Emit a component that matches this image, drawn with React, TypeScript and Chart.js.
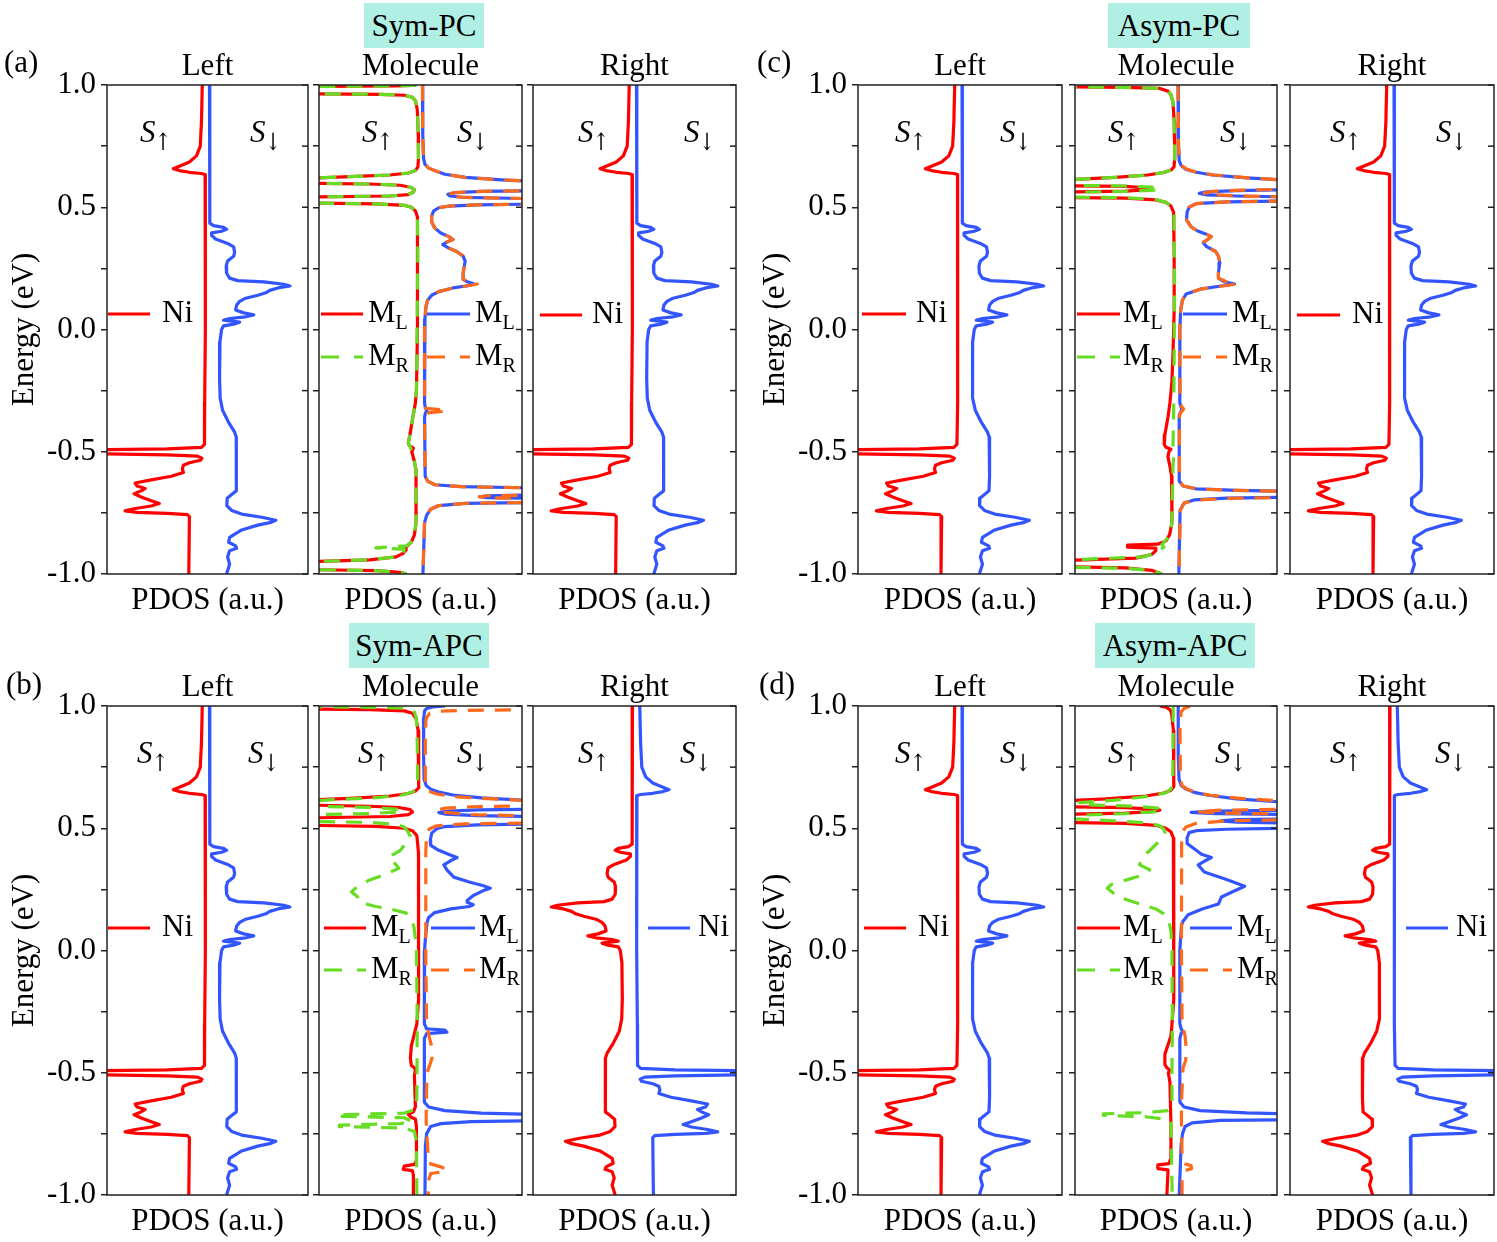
import React, { useEffect, useRef } from 'react';
import { Chart, registerables } from 'chart.js';

Chart.register(...registerables);

type Curve = [number, number][]; // [energy (eV), PDOS (a.u.)], spin-up negative, spin-down positive

const FONT = "'Liberation Serif', 'Times New Roman', Times, 'DejaVu Serif', serif";
const RED = '#ff0000';
const BLUE = '#3355ff';
const GREEN = '#66dd22';
const ORANGE = '#ff6a1a';

const ENERGY_TICKS = [-1, -0.75, -0.5, -0.25, 0, 0.25, 0.5, 0.75, 1];
const ENERGY_LABELS = ['-1.0', '', '-0.5', '', '0.0', '', '0.5', '', '1.0'];
const PANEL_TITLES = ['Left', 'Molecule', 'Right'];
const GROUP_TITLES = ['Sym-PC', 'Asym-PC', 'Sym-APC', 'Asym-APC'];
const GROUP_LETTERS = ['(a)', '(c)', '(b)', '(d)'];

// ---------- Ni electrode PDOS ----------
const NI_UP: Curve = [
  [1.0, -2.6], [0.85, -3.0], [0.75, -3.6], [0.71, -5.5], [0.685, -9], [0.668, -14], [0.658, -17], [0.65, -14],
  [0.643, -9], [0.638, -3], [0.634, -1.2], [0.6, -1.0], [0.3, -1.0], [0.0, -1.2], [-0.3, -1.4], [-0.47, -1.5],
  [-0.482, -3], [-0.488, -20], [-0.492, -56], [-0.508, -56], [-0.513, -20], [-0.518, -5], [-0.526, -2.8],
  [-0.535, -3.5], [-0.545, -9], [-0.555, -12], [-0.57, -12.5], [-0.585, -12], [-0.6, -18], [-0.615, -28],
  [-0.628, -36], [-0.64, -35], [-0.65, -31], [-0.66, -33], [-0.672, -36.5], [-0.685, -33], [-0.7, -28],
  [-0.712, -24], [-0.722, -28], [-0.732, -36], [-0.742, -41], [-0.748, -35], [-0.752, -20], [-0.757, -10],
  [-0.765, -9], [-1.0, -9.3],
];
const NI_DN: Curve = [
  [1.0, 1.0], [0.6, 1.1], [0.435, 1.2], [0.425, 3], [0.418, 8], [0.41, 9.5], [0.402, 7], [0.395, 2.2],
  [0.385, 2.0], [0.37, 4], [0.352, 10], [0.338, 13], [0.315, 13.5], [0.3, 13], [0.28, 10], [0.26, 9.3],
  [0.23, 9.5], [0.21, 11], [0.2, 15], [0.195, 28], [0.185, 38], [0.178, 41], [0.17, 35], [0.16, 31],
  [0.15, 29], [0.14, 25], [0.128, 19], [0.115, 16], [0.1, 14.5], [0.08, 14], [0.068, 18], [0.06, 23],
  [0.052, 19], [0.045, 11], [0.038, 8], [0.03, 16], [0.022, 13], [0.015, 8], [0.0, 7], [-0.05, 6.2],
  [-0.2, 6.0], [-0.28, 6.3], [-0.33, 7.5], [-0.38, 10.5], [-0.42, 13.5], [-0.44, 14.3], [-0.6, 14.5],
  [-0.66, 14.2], [-0.675, 12], [-0.69, 9.8], [-0.72, 9.6], [-0.74, 12], [-0.755, 17], [-0.768, 27],
  [-0.78, 34], [-0.79, 31], [-0.8, 25], [-0.82, 17], [-0.85, 11], [-0.87, 10.5], [-0.885, 14], [-0.895, 14.5],
  [-0.905, 11], [-0.93, 10], [-0.96, 11], [-1.0, 9.5],
];
// anti-parallel right electrode: spins exchanged
const spinFlip = (c: Curve): Curve => c.map(([e, v]) => [e, -v] as [number, number]);
const NI_APC_UP = spinFlip(NI_DN);
const NI_APC_DN = spinFlip(NI_UP);

// ---------- Sym-PC molecule ----------
const SYM_PC_ML_UP: Curve = [
  [1.0, -2.0], [0.998, -4], [0.996, -12], [0.994, -56], [0.964, -56], [0.962, -20], [0.958, -8], [0.95, -4],
  [0.935, -2.5], [0.9, -1.6], [0.8, -1.1], [0.7, -1.0], [0.665, -1.3], [0.65, -2.5], [0.64, -6], [0.632, -15],
  [0.625, -35], [0.618, -56], [0.598, -56], [0.595, -25], [0.59, -10], [0.582, -5], [0.572, -3], [0.562, -3.5],
  [0.552, -6], [0.546, -15], [0.542, -56], [0.517, -56], [0.514, -22], [0.508, -8], [0.5, -4.5], [0.485, -2.5],
  [0.46, -1.5], [0.3, -1.3], [0.0, -1.7], [-0.25, -2.0], [-0.3, -2.5], [-0.355, -3.7], [-0.43, -5.2],
  [-0.465, -6.0], [-0.475, -5.5], [-0.485, -3.5], [-0.492, -3.8], [-0.5, -4.3], [-0.54, -3], [-0.575, -2.2],
  [-0.79, -2.2], [-0.84, -3], [-0.87, -4.5], [-0.885, -6.5], [-0.893, -7.5], [-0.9, -7], [-0.915, -8.5],
  [-0.93, -12], [-0.942, -25], [-0.95, -56], [-0.982, -56], [-0.986, -22], [-0.993, -10], [-1.0, -7],
];
const SYM_PC_MR_UP: Curve = [
  [1.0, -2.0], [0.998, -4], [0.996, -12], [0.994, -56], [0.964, -56], [0.962, -20], [0.958, -8], [0.95, -4],
  [0.935, -2.5], [0.9, -1.6], [0.8, -1.1], [0.7, -1.0], [0.665, -1.3], [0.65, -2.5], [0.64, -6], [0.632, -15],
  [0.625, -35], [0.618, -56], [0.598, -56], [0.595, -25], [0.59, -10], [0.582, -5], [0.572, -3], [0.562, -3.5],
  [0.552, -6], [0.546, -15], [0.542, -56], [0.517, -56], [0.514, -22], [0.508, -8], [0.5, -4.5], [0.485, -2.5],
  [0.46, -1.5], [0.3, -1.3], [0.0, -1.7], [-0.25, -2.0], [-0.3, -2.5], [-0.355, -3.7], [-0.43, -5.2],
  [-0.465, -6.0], [-0.48, -5.0], [-0.5, -4.3], [-0.54, -3], [-0.575, -2.2], [-0.79, -2.2], [-0.84, -3],
  [-0.87, -4.5], [-0.885, -7], [-0.893, -22], [-0.899, -8], [-0.915, -8.5], [-0.93, -12], [-0.942, -25],
  [-0.95, -56], [-0.982, -56], [-0.986, -22], [-0.993, -10], [-1.0, -7],
];
const SYM_PC_ML_DN: Curve = [
  [1.0, 1.0], [0.8, 1.1], [0.7, 1.5], [0.675, 2.2], [0.66, 4], [0.648, 7.5], [0.635, 12], [0.622, 22],
  [0.612, 40], [0.606, 56], [0.568, 56], [0.565, 30], [0.56, 17], [0.553, 13.5], [0.546, 14.5], [0.54, 22],
  [0.535, 56], [0.513, 56], [0.51, 28], [0.505, 14], [0.498, 9], [0.485, 6.5], [0.465, 5.5], [0.44, 5.5],
  [0.415, 7], [0.395, 10], [0.38, 14], [0.368, 16], [0.358, 13], [0.347, 11], [0.335, 13.5], [0.318, 18],
  [0.3, 21], [0.28, 22], [0.255, 21.5], [0.23, 21], [0.205, 21], [0.195, 23], [0.186, 26.5], [0.18, 24],
  [0.17, 16], [0.155, 9], [0.14, 5.5], [0.12, 3.5], [0.09, 2.6], [0.04, 2.2], [0.0, 2.0], [-0.3, 2.0],
  [-0.322, 2.4], [-0.332, 3.2], [-0.342, 2.4], [-0.36, 2.0], [-0.6, 2.3], [-0.62, 3.5], [-0.635, 7],
  [-0.643, 20], [-0.648, 56], [-0.677, 56], [-0.68, 33], [-0.684, 29], [-0.688, 33], [-0.691, 56],
  [-0.707, 56], [-0.711, 22], [-0.72, 9], [-0.735, 5], [-0.76, 3], [-0.79, 2], [-1.0, 1.2],
];
const SYM_PC_MR_DN: Curve = [
  [1.0, 1.0], [0.8, 1.1], [0.7, 1.5], [0.675, 2.2], [0.66, 4], [0.648, 7.5], [0.635, 12], [0.622, 22],
  [0.612, 40], [0.606, 56], [0.568, 56], [0.565, 30], [0.56, 17], [0.553, 13.5], [0.546, 14.5], [0.54, 22],
  [0.535, 56], [0.513, 56], [0.51, 28], [0.505, 14], [0.498, 9], [0.485, 6.5], [0.465, 5.5], [0.44, 5.5],
  [0.415, 7], [0.395, 10], [0.38, 14], [0.368, 16], [0.358, 13], [0.347, 11], [0.335, 13.5], [0.318, 18],
  [0.3, 21], [0.28, 22], [0.255, 21.5], [0.23, 21], [0.205, 21], [0.195, 24], [0.186, 28], [0.18, 24],
  [0.17, 16], [0.155, 9], [0.14, 5.5], [0.12, 3.5], [0.09, 2.6], [0.04, 2.2], [0.0, 2.0], [-0.3, 2.0],
  [-0.322, 2.5], [-0.328, 10], [-0.334, 13], [-0.34, 4], [-0.36, 2.0], [-0.6, 2.3], [-0.62, 3.5], [-0.635, 7],
  [-0.643, 20], [-0.648, 56], [-0.677, 56], [-0.68, 33], [-0.684, 29], [-0.688, 33], [-0.691, 56],
  [-0.707, 56], [-0.711, 22], [-0.72, 9], [-0.735, 5], [-0.76, 3], [-0.79, 2], [-1.0, 1.2],
];

// ---------- Asym-PC molecule ----------
const ASYM_PC_ML_UP: Curve = [
  [1.0, -56], [0.993, -56], [0.99, -25], [0.986, -8], [0.975, -4], [0.96, -2.5], [0.93, -1.5], [0.85, -0.9],
  [0.7, -0.6], [0.665, -1.0], [0.652, -2.5], [0.642, -6], [0.632, -14], [0.622, -30], [0.612, -56],
  [0.588, -56], [0.585, -25], [0.58, -17], [0.575, -14], [0.57, -17], [0.566, -25], [0.562, -56], [0.54, -56],
  [0.537, -25], [0.53, -10], [0.52, -5], [0.505, -2.5], [0.48, -1.2], [0.3, -0.9], [0.08, -0.9], [-0.1, -1.5],
  [-0.21, -2], [-0.3, -3], [-0.355, -3.9], [-0.43, -5.5], [-0.47, -5.8], [-0.482, -5], [-0.49, -2.5],
  [-0.5, -3.5], [-0.52, -4], [-0.56, -3], [-0.6, -2.2], [-0.79, -2.0], [-0.84, -3.2], [-0.865, -5],
  [-0.878, -9], [-0.882, -24], [-0.89, -24], [-0.894, -10], [-0.905, -10], [-0.92, -12], [-0.935, -20],
  [-0.945, -56], [-0.97, -56], [-0.975, -25], [-0.985, -12], [-1.0, -7],
];
const ASYM_PC_MR_UP: Curve = [
  [1.0, -56], [0.993, -56], [0.99, -25], [0.986, -8], [0.975, -4], [0.96, -2.5], [0.93, -1.5], [0.85, -0.9],
  [0.7, -0.6], [0.665, -1.0], [0.652, -2.5], [0.642, -6], [0.63, -16], [0.62, -35], [0.612, -56], [0.59, -56],
  [0.587, -25], [0.582, -12], [0.576, -8], [0.57, -10], [0.565, -25], [0.561, -56], [0.542, -56],
  [0.539, -25], [0.532, -10], [0.52, -5], [0.505, -2.5], [0.48, -1.0], [0.2, -0.7], [-0.1, -0.9],
  [-0.3, -1.1], [-0.4, -1.3], [-0.48, -1.5], [-0.5, -1.0], [-0.56, -1.5], [-0.79, -2.0], [-0.84, -3],
  [-0.87, -6], [-0.88, -7], [-0.89, -6], [-0.91, -9], [-0.93, -16], [-0.943, -56], [-0.972, -56],
  [-0.977, -25], [-0.985, -12], [-1.0, -7],
];
const ASYM_PC_ML_DN: Curve = [
  [1.0, 1.0], [0.75, 1.2], [0.69, 1.6], [0.67, 2.6], [0.655, 5], [0.643, 10], [0.632, 18], [0.62, 35],
  [0.61, 56], [0.572, 56], [0.568, 30], [0.563, 15], [0.557, 11.5], [0.551, 15], [0.546, 30], [0.542, 56],
  [0.526, 56], [0.522, 25], [0.515, 10], [0.5, 6.5], [0.48, 5.5], [0.448, 5.2], [0.42, 7.5], [0.404, 10.5],
  [0.39, 15], [0.38, 17.5], [0.37, 16], [0.355, 13.5], [0.34, 15], [0.32, 19.5], [0.3, 21], [0.273, 21.7],
  [0.25, 21.3], [0.23, 21], [0.21, 21], [0.195, 24], [0.186, 29], [0.18, 24], [0.165, 12], [0.145, 5],
  [0.12, 3.2], [0.08, 2.3], [0.0, 1.9], [-0.3, 1.9], [-0.315, 2.4], [-0.325, 3], [-0.335, 2.4], [-0.35, 1.6],
  [-0.62, 1.6], [-0.64, 3.5], [-0.652, 10], [-0.658, 30], [-0.662, 56], [-0.686, 56], [-0.69, 25],
  [-0.697, 9], [-0.71, 4], [-0.74, 2], [-1.0, 1.4],
];
const ASYM_PC_MR_DN: Curve = [
  [1.0, 1.0], [0.75, 1.3], [0.69, 1.8], [0.67, 2.8], [0.655, 5.5], [0.643, 10.5], [0.632, 19], [0.62, 36],
  [0.61, 56], [0.574, 56], [0.57, 32], [0.565, 18], [0.558, 14], [0.551, 18], [0.546, 32], [0.542, 56],
  [0.526, 56], [0.522, 25], [0.515, 10], [0.5, 6.5], [0.48, 5.5], [0.448, 5.2], [0.42, 7.5], [0.404, 10.5],
  [0.39, 15], [0.38, 17.5], [0.37, 16], [0.355, 13], [0.34, 14.5], [0.32, 19.5], [0.3, 21], [0.273, 21.7],
  [0.25, 21.3], [0.23, 21], [0.21, 21], [0.195, 25], [0.186, 30], [0.18, 25], [0.165, 12], [0.145, 5],
  [0.12, 3.2], [0.08, 2.3], [0.0, 1.9], [-0.3, 2.0], [-0.315, 2.8], [-0.325, 3.8], [-0.335, 2.8],
  [-0.35, 1.7], [-0.62, 1.7], [-0.64, 3.6], [-0.652, 10.5], [-0.658, 30], [-0.662, 56], [-0.687, 56],
  [-0.691, 25], [-0.698, 9], [-0.71, 4], [-0.74, 2.1], [-1.0, 1.5],
];

// ---------- Sym-APC molecule ----------
const SYM_APC_ML_UP: Curve = [
  [1.0, -56], [0.988, -56], [0.985, -25], [0.98, -8], [0.97, -4], [0.95, -2.2], [0.9, -1.2], [0.75, -0.8],
  [0.665, -1.0], [0.652, -2.5], [0.642, -6], [0.632, -15], [0.622, -35], [0.615, -56], [0.595, -56],
  [0.59, -25], [0.584, -10], [0.576, -5], [0.566, -4], [0.556, -6], [0.548, -15], [0.542, -56], [0.512, -56],
  [0.508, -22], [0.5, -8], [0.49, -4], [0.47, -1.8], [0.4, -1.0], [0.0, -0.9], [-0.2, -1.0], [-0.3, -1.8],
  [-0.39, -4.5], [-0.44, -5.0], [-0.47, -4.5], [-0.48, -3], [-0.49, -2.5], [-0.51, -3], [-0.64, -2.5],
  [-0.66, -3.5], [-0.67, -6], [-0.68, -5], [-0.69, -2.5], [-0.72, -2], [-0.86, -2], [-0.875, -3],
  [-0.882, -8], [-0.895, -8.5], [-0.9, -4], [-0.92, -3.5], [-1.0, -3.5],
];
const SYM_APC_MR_UP: Curve = [
  [1.0, -56], [0.997, -56], [0.994, -20], [0.99, -6], [0.975, -3], [0.95, -2], [0.85, -1.6], [0.7, -1.4],
  [0.66, -2], [0.648, -4], [0.636, -9], [0.626, -20], [0.616, -45], [0.61, -56], [0.59, -56], [0.585, -25],
  [0.578, -12], [0.572, -9], [0.566, -12], [0.56, -25], [0.555, -56], [0.528, -56], [0.524, -25],
  [0.516, -12], [0.505, -8], [0.49, -6.5], [0.467, -5], [0.43, -8], [0.409, -10], [0.39, -14], [0.38, -15.6],
  [0.36, -13], [0.336, -10.7], [0.31, -18], [0.285, -26], [0.255, -32], [0.24, -34], [0.22, -31],
  [0.197, -30], [0.18, -22], [0.168, -14], [0.153, -7], [0.13, -4.5], [0.1, -3.3], [0.05, -2.5], [0.0, -2],
  [-0.3, -1.6], [-0.6, -1.8], [-0.65, -2.5], [-0.665, -8], [-0.672, -41], [-0.678, -41], [-0.684, -8],
  [-0.7, -4], [-0.708, -10], [-0.714, -40], [-0.72, -40], [-0.726, -8], [-0.74, -3], [-0.78, -2], [-1.0, -1.8],
];
const SYM_APC_ML_DN: Curve = [
  [1.0, 12], [0.996, 6], [0.99, 3], [0.98, 2], [0.95, 1.6], [0.8, 1.5], [0.7, 1.8], [0.675, 2.8], [0.66, 5],
  [0.648, 9], [0.636, 16], [0.624, 30], [0.612, 56], [0.578, 56], [0.575, 28], [0.57, 14], [0.564, 9],
  [0.558, 12], [0.552, 28], [0.548, 56], [0.518, 56], [0.514, 28], [0.507, 12], [0.498, 8], [0.48, 5.5],
  [0.45, 4.8], [0.43, 5], [0.41, 9], [0.39, 15], [0.38, 18], [0.368, 15], [0.35, 11.5], [0.33, 13],
  [0.3, 16.4], [0.28, 24], [0.265, 31], [0.255, 34.4], [0.245, 31], [0.225, 26], [0.205, 23], [0.197, 23],
  [0.187, 26], [0.18, 24], [0.17, 15], [0.155, 7], [0.135, 4], [0.117, 3.3], [0.06, 2.5], [0.0, 2.0],
  [-0.3, 1.9], [-0.32, 3], [-0.326, 12], [-0.334, 13], [-0.34, 3], [-0.36, 1.9], [-0.62, 1.9], [-0.64, 4],
  [-0.655, 12], [-0.665, 30], [-0.67, 56], [-0.696, 56], [-0.7, 25], [-0.708, 10], [-0.72, 5], [-0.75, 3],
  [-0.8, 2.4], [-1.0, 2.2],
];
const SYM_APC_MR_DN: Curve = [
  [1.0, 56], [0.985, 56], [0.982, 20], [0.978, 8], [0.97, 4.5], [0.95, 2.8], [0.9, 2.4], [0.7, 2.4],
  [0.665, 2.6], [0.652, 4], [0.64, 8], [0.628, 18], [0.618, 40], [0.612, 56], [0.592, 56], [0.588, 25],
  [0.582, 12], [0.574, 8], [0.566, 10], [0.556, 25], [0.55, 56], [0.522, 56], [0.518, 22], [0.51, 8],
  [0.498, 4.5], [0.48, 3], [0.4, 2.6], [0.0, 2.6], [-0.3, 3], [-0.36, 4.5], [-0.4, 5.7], [-0.44, 5.7],
  [-0.47, 4.5], [-0.5, 3.2], [-0.64, 2.8], [-0.7, 2.8], [-0.8, 3.5], [-0.87, 4], [-0.885, 10], [-0.895, 13],
  [-0.905, 11], [-0.912, 5], [-0.94, 4], [-1.0, 3.8],
];

// ---------- Asym-APC molecule ----------
const ASYM_APC_ML_UP: Curve = [
  [1.0, -8], [0.995, -5], [0.985, -3], [0.97, -2.2], [0.9, -1.3], [0.75, -1.0], [0.67, -1.2], [0.655, -2.5],
  [0.644, -6], [0.632, -15], [0.62, -35], [0.612, -56], [0.588, -56], [0.584, -25], [0.578, -12],
  [0.574, -8], [0.568, -12], [0.562, -25], [0.557, -56], [0.524, -56], [0.52, -25], [0.512, -10], [0.5, -5],
  [0.485, -2.5], [0.46, -1.3], [0.2, -1.0], [-0.2, -1.2], [-0.3, -2], [-0.35, -2.5], [-0.424, -5.5],
  [-0.467, -5.5], [-0.48, -4.5], [-0.49, -3], [-0.5, -3.8], [-0.54, -3], [-0.715, -2.5], [-0.85, -2.5],
  [-0.872, -3.5], [-0.877, -9], [-0.892, -9], [-0.897, -4], [-0.91, -4], [-1.0, -4.5],
];
const ASYM_APC_MR_UP: Curve = [
  [1.0, -1.4], [0.9, -1.4], [0.7, -1.6], [0.66, -2.5], [0.645, -5], [0.632, -12], [0.615, -30], [0.605, -48],
  [0.597, -48], [0.59, -20], [0.582, -9], [0.575, -6.5], [0.568, -9], [0.56, -25], [0.553, -48],
  [0.538, -50], [0.53, -30], [0.522, -14], [0.51, -8], [0.496, -6], [0.482, -5.5], [0.45, -8], [0.409, -13],
  [0.38, -17], [0.35, -18], [0.33, -13], [0.31, -16], [0.29, -24], [0.27, -32], [0.255, -34], [0.235, -31],
  [0.215, -27], [0.19, -18], [0.17, -10], [0.15, -6], [0.12, -3.5], [0.08, -2.5], [0.0, -2], [-0.3, -1.8],
  [-0.5, -2], [-0.64, -2], [-0.655, -4], [-0.663, -15], [-0.668, -36], [-0.674, -36], [-0.68, -15],
  [-0.69, -5], [-0.7, -2.5], [-1.0, -1.9],
];
const ASYM_APC_ML_DN: Curve = [
  [1.0, 1.1], [0.8, 1.1], [0.7, 1.5], [0.675, 2.6], [0.66, 5], [0.647, 9], [0.635, 16], [0.62, 30],
  [0.605, 56], [0.574, 56], [0.57, 20], [0.565, 7.5], [0.56, 20], [0.556, 56], [0.538, 56], [0.535, 30],
  [0.53, 22], [0.525, 30], [0.521, 56], [0.5, 56], [0.496, 25], [0.49, 10], [0.482, 6.5], [0.46, 5.5],
  [0.438, 5.5], [0.41, 10], [0.394, 12.6], [0.38, 17.5], [0.365, 14], [0.35, 11], [0.321, 14], [0.29, 25],
  [0.263, 34], [0.24, 28], [0.219, 22.5], [0.19, 21], [0.17, 13], [0.146, 6], [0.12, 3.5], [0.102, 2.7],
  [0.0, 1.9], [-0.3, 1.9], [-0.32, 2.5], [-0.33, 3.3], [-0.34, 2.5], [-0.36, 1.9], [-0.62, 1.9], [-0.64, 4],
  [-0.655, 12], [-0.664, 35], [-0.668, 56], [-0.692, 56], [-0.695, 22], [-0.705, 8], [-0.72, 4.5],
  [-0.75, 3.2], [-0.8, 2.5], [-1.0, 1.6],
];
const ASYM_APC_MR_DN: Curve = [
  [1.0, 7], [0.99, 4], [0.975, 2.5], [0.9, 2.0], [0.7, 2.2], [0.675, 3], [0.66, 5.5], [0.647, 9.5],
  [0.635, 17], [0.622, 32], [0.61, 56], [0.578, 56], [0.574, 22], [0.568, 10], [0.562, 22], [0.558, 56],
  [0.535, 56], [0.53, 25], [0.52, 10], [0.505, 5], [0.49, 3.5], [0.45, 2.8], [0.0, 2.7], [-0.3, 3],
  [-0.35, 4.5], [-0.4, 5], [-0.45, 4.8], [-0.48, 3.5], [-0.62, 2.7], [-0.7, 2.7], [-0.85, 3], [-0.872, 4],
  [-0.88, 7.5], [-0.892, 7.7], [-0.9, 4.5], [-0.93, 3], [-1.0, 3],
];

// ---------- layout ----------
const FRAME_X: [number, number][] = [[107, 308], [319, 522], [533, 736], [858, 1062], [1075, 1277], [1290, 1494]];
const FRAME_Y: [number, number][] = [[85, 574], [706, 1195]];
const TITLE_H = 38;
const XAXIS_H = 50;
const PAD_R = 2;

type Series = { data: Curve; color: string; dashed: boolean };
type LegendItem = { x0: number; x1: number; y: number; color: string; dashed: boolean; label: string; tx: number };
type Spec = {
  key: string; col: number; row: number; title: string; yAxis: boolean;
  series: Series[]; legend: LegendItem[]; sUp: number; sDn: number;
};

const elecSeries = (up: Curve, dn: Curve): Series[] => [
  { data: up, color: RED, dashed: false },
  { data: dn, color: BLUE, dashed: false },
];
const molSeries = (mlUp: Curve, mlDn: Curve, mrUp: Curve, mrDn: Curve): Series[] => [
  { data: mrUp, color: GREEN, dashed: true },
  { data: mrDn, color: ORANGE, dashed: true },
  { data: mlUp, color: RED, dashed: false },
  { data: mlDn, color: BLUE, dashed: false },
];
const molLegend = (l0: number, l1: number, tl: number, r0: number, r1: number, tr: number, y1: number, y2: number): LegendItem[] => [
  { x0: l0, x1: l1, y: y1, color: RED, dashed: false, label: 'ML', tx: tl },
  { x0: r0, x1: r1, y: y1, color: BLUE, dashed: false, label: 'ML', tx: tr },
  { x0: l0, x1: l1, y: y2, color: GREEN, dashed: true, label: 'MR', tx: tl },
  { x0: r0, x1: r1, y: y2, color: ORANGE, dashed: true, label: 'MR', tx: tr },
];
const niLegend = (x0: number, x1: number, tx: number, y: number, color: string): LegendItem[] => [
  { x0, x1, y, color, dashed: false, label: 'Ni', tx },
];

const PANELS: Spec[] = [
  { key: 'aL', col: 0, row: 0, title: PANEL_TITLES[0], yAxis: true, series: elecSeries(NI_UP, NI_DN), legend: niLegend(1, 43, 55, 229, RED), sUp: 33, sDn: 143 },
  { key: 'aM', col: 1, row: 0, title: PANEL_TITLES[1], yAxis: false, series: molSeries(SYM_PC_ML_UP, SYM_PC_ML_DN, SYM_PC_MR_UP, SYM_PC_MR_DN), legend: molLegend(2, 44, 49, 108, 151, 156, 229, 272), sUp: 43, sDn: 138 },
  { key: 'aR', col: 2, row: 0, title: PANEL_TITLES[2], yAxis: false, series: elecSeries(NI_UP, NI_DN), legend: niLegend(7, 49, 59, 230, RED), sUp: 45, sDn: 151 },
  { key: 'cL', col: 3, row: 0, title: PANEL_TITLES[0], yAxis: true, series: elecSeries(NI_UP, NI_DN), legend: niLegend(4, 48, 58, 229, RED), sUp: 37, sDn: 142 },
  { key: 'cM', col: 4, row: 0, title: PANEL_TITLES[1], yAxis: false, series: molSeries(ASYM_PC_ML_UP, ASYM_PC_ML_DN, ASYM_PC_MR_UP, ASYM_PC_MR_DN), legend: molLegend(2, 45, 48, 108, 152, 157, 229, 272), sUp: 33, sDn: 145 },
  { key: 'cR', col: 5, row: 0, title: PANEL_TITLES[2], yAxis: false, series: elecSeries(NI_UP, NI_DN), legend: niLegend(7, 50, 62, 230, RED), sUp: 40, sDn: 146 },
  { key: 'bL', col: 0, row: 1, title: PANEL_TITLES[0], yAxis: true, series: elecSeries(NI_UP, NI_DN), legend: niLegend(1, 43, 55, 222, RED), sUp: 30, sDn: 141 },
  { key: 'bM', col: 1, row: 1, title: PANEL_TITLES[1], yAxis: false, series: molSeries(SYM_APC_ML_UP, SYM_APC_ML_DN, SYM_APC_MR_UP, SYM_APC_MR_DN), legend: molLegend(5, 47, 52, 112, 156, 160, 222, 264), sUp: 39, sDn: 138 },
  { key: 'bR', col: 2, row: 1, title: PANEL_TITLES[2], yAxis: false, series: elecSeries(NI_APC_UP, NI_APC_DN), legend: niLegend(115, 157, 165, 222, BLUE), sUp: 45, sDn: 147 },
  { key: 'dL', col: 3, row: 1, title: PANEL_TITLES[0], yAxis: true, series: elecSeries(NI_UP, NI_DN), legend: niLegend(6, 48, 60, 222, RED), sUp: 37, sDn: 142 },
  { key: 'dM', col: 4, row: 1, title: PANEL_TITLES[1], yAxis: false, series: molSeries(ASYM_APC_ML_UP, ASYM_APC_ML_DN, ASYM_APC_MR_UP, ASYM_APC_MR_DN), legend: molLegend(2, 45, 48, 115, 157, 162, 222, 264), sUp: 33, sDn: 140 },
  { key: 'dR', col: 5, row: 1, title: PANEL_TITLES[2], yAxis: false, series: elecSeries(NI_APC_UP, NI_APC_DN), legend: niLegend(116, 158, 166, 222, BLUE), sUp: 40, sDn: 145 },
];

const GROUP_BOXES = [
  { title: GROUP_TITLES[0], letter: GROUP_LETTERS[0], boxL: 364, boxW: 120, top: 3, letterL: 4, letterT: 46 },
  { title: GROUP_TITLES[1], letter: GROUP_LETTERS[1], boxL: 1108, boxW: 142, top: 3, letterL: 757, letterT: 46 },
  { title: GROUP_TITLES[2], letter: GROUP_LETTERS[2], boxL: 349, boxW: 140, top: 623, letterL: 6, letterT: 668 },
  { title: GROUP_TITLES[3], letter: GROUP_LETTERS[3], boxL: 1095, boxW: 160, top: 623, letterL: 759, letterT: 668 },
];

function Panel({ spec }: { spec: Spec }) {
  const ref = useRef<HTMLCanvasElement>(null);
  const [fx0, fx1] = FRAME_X[spec.col];
  const [fy0, fy1] = FRAME_Y[spec.row];
  const axisW = spec.yAxis ? 107 : 8;
  const left = fx0 - axisW;
  const top = fy0 - TITLE_H;
  const width = axisW + (fx1 - fx0) + PAD_R;
  const height = TITLE_H + (fy1 - fy0) + XAXIS_H;

  useEffect(() => {
    const cv = ref.current;
    if (!cv) return;
    const decor = {
      id: 'decor',
      afterDatasetsDraw(chart: any) {
        const { ctx, chartArea: a, scales } = chart;
        ctx.save();
        ctx.setLineDash([]);
        ctx.strokeStyle = '#222';
        ctx.lineWidth = 1.5;
        ctx.strokeRect(a.left, a.top, a.right - a.left, a.bottom - a.top);
        scales.y.ticks.forEach((t: any) => {
          const py = scales.y.getPixelForValue(t.value);
          ctx.beginPath();
          ctx.moveTo(a.right, py);
          ctx.lineTo(a.right - 6, py);
          ctx.stroke();
        });
        spec.legend.forEach((it) => {
          ctx.beginPath();
          ctx.strokeStyle = it.color;
          ctx.lineWidth = 3;
          ctx.setLineDash(it.dashed ? [18, 15] : []);
          ctx.moveTo(a.left + it.x0, a.top + it.y);
          ctx.lineTo(a.left + it.x1, a.top + it.y);
          ctx.stroke();
        });
        ctx.restore();
      },
    };
    const font = { family: FONT, size: 31, lineHeight: 1, weight: 'normal' };
    const chart = new Chart(cv, {
      type: 'scatter',
      data: {
        datasets: spec.series.map((s) => ({
          data: s.data.map(([e, v]) => ({ x: v, y: e })),
          showLine: true,
          borderColor: s.color,
          backgroundColor: s.color,
          borderWidth: 3.2,
          borderDash: s.dashed ? [16, 11] : [],
          borderJoinStyle: 'round',
          pointRadius: 0,
          pointHoverRadius: 0,
          tension: 0,
          fill: false,
        })),
      } as any,
      options: {
        animation: false,
        responsive: false,
        events: [],
        layout: { padding: { left: 0, right: PAD_R, top: 0, bottom: 0 } },
        plugins: {
          legend: { display: false },
          tooltip: { enabled: false },
          title: {
            display: true, text: spec.title, fullSize: false, color: '#000', font,
            padding: { top: 4, bottom: 3 },
          },
        },
        scales: {
          x: {
            type: 'linear', min: -50, max: 50,
            ticks: { display: false },
            grid: { display: false },
            border: { display: false },
            title: { display: true, text: 'PDOS (a.u.)', color: '#000', font, padding: { top: 0, bottom: 8 } },
            afterFit: (s: any) => { s.height = XAXIS_H; },
          },
          y: {
            type: 'linear', min: -1, max: 1,
            afterBuildTicks: (s: any) => { s.ticks = ENERGY_TICKS.map((v) => ({ value: v })); },
            ticks: {
              autoSkip: false, padding: 5, color: '#000', font,
              callback: (_v: any, i: number) => (spec.yAxis ? ENERGY_LABELS[i] : ''),
            },
            grid: { display: true, drawOnChartArea: false, drawTicks: true, tickLength: 6, color: '#222', lineWidth: 1.5 },
            border: { display: false },
            title: { display: spec.yAxis, text: 'Energy (eV)', color: '#000', font, padding: { top: 9, bottom: 0 } },
            afterFit: (s: any) => { s.width = axisW; },
          },
        },
      } as any,
      plugins: [decor as any],
    });
    const a = chart.chartArea;
    if (a) {
      cv.style.left = `${fx0 - a.left}px`;
      cv.style.top = `${fy0 - a.top}px`;
    }
    return () => chart.destroy();
  }, [spec]);

  return (
    <canvas
      ref={ref}
      width={width}
      height={height}
      style={{ position: 'absolute', left, top, width, height }}
    />
  );
}

const txt: React.CSSProperties = {
  position: 'absolute', fontSize: 31, lineHeight: '31px', whiteSpace: 'nowrap', fontFamily: FONT, color: '#000',
};

function Annotations({ spec }: { spec: Spec }) {
  const fx0 = FRAME_X[spec.col][0];
  const fy0 = FRAME_Y[spec.row][0];
  const sTop = fy0 + 31;
  const arrow: React.CSSProperties = {
    fontSize: 24, position: 'relative', top: 8, marginLeft: -3, fontFamily: "'DejaVu Serif', serif",
    display: 'inline-block', transform: 'scaleX(0.8)',
  };
  return (
    <>
      <div style={{ ...txt, left: fx0 + spec.sUp, top: sTop }}>
        <i>S</i><span style={arrow}>↑</span>
      </div>
      <div style={{ ...txt, left: fx0 + spec.sDn, top: sTop }}>
        <i>S</i><span style={arrow}>↓</span>
      </div>
      {spec.legend.map((it, i) => (
        <div key={i} style={{ ...txt, left: fx0 + it.tx, top: fy0 + it.y - 18 }}>
          {it.label === 'Ni' ? 'Ni' : (
            <>M<span style={{ fontSize: 20, position: 'relative', top: 7 }}>{it.label === 'ML' ? 'L' : 'R'}</span></>
          )}
        </div>
      ))}
    </>
  );
}

export default function App() {
  return (
    <div style={{ position: 'absolute', left: 0, top: 0, width: 1497, height: 1242, background: '#fff', overflow: 'hidden', fontFamily: FONT }}>
      {PANELS.map((p) => <Panel key={p.key} spec={p} />)}
      {PANELS.map((p) => <Annotations key={'t' + p.key} spec={p} />)}
      {GROUP_BOXES.map((g) => (
        <React.Fragment key={g.title}>
          <div style={{
            position: 'absolute', left: g.boxL, top: g.top, width: g.boxW, height: 45, background: '#b0efe4',
            display: 'flex', alignItems: 'center', justifyContent: 'center', fontSize: 31, fontFamily: FONT, color: '#000',
          }}>{g.title}</div>
          <div style={{ ...txt, left: g.letterL, top: g.letterT }}>{g.letter}</div>
        </React.Fragment>
      ))}
    </div>
  );
}
